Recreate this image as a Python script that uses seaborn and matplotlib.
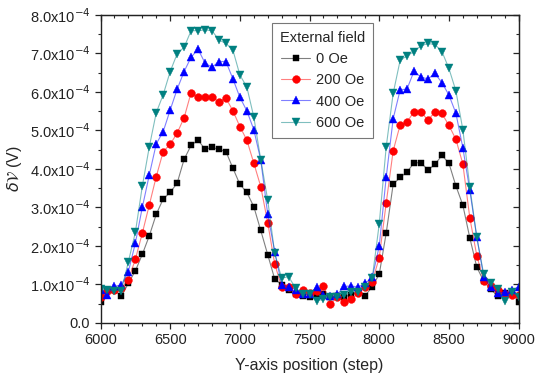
import numpy as np
import pandas as pd
import seaborn as sns
import matplotlib.pyplot as plt
from matplotlib.ticker import MultipleLocator, FuncFormatter

# Y-axis position (step), one point every 50 steps
steps = list(range(6000, 9001, 50))

# delta V in units of 1e-4 V
dv_0oe = [0.54, 0.83, 0.86, 0.69, 1.03, 1.35, 1.78, 2.26, 2.82, 3.22,
          3.39, 3.63, 4.25, 4.61, 4.75, 4.51, 4.56, 4.51, 4.45, 4.02,
          3.60, 3.39, 3.02, 2.40, 1.77, 1.14, 0.99, 0.86, 0.75, 0.70,
          0.68, 0.70, 0.74, 0.66, 0.70, 0.68, 0.73, 0.80, 0.71, 0.94,
          1.26, 2.33, 3.60, 3.78, 3.92, 4.16, 4.16, 3.97, 4.12, 4.35,
          4.15, 3.56, 3.06, 2.21, 1.45, 1.08, 0.87, 0.70, 0.78, 0.80, 0.55]
dv_200oe = [0.66, 0.84, 0.85, 0.90, 1.12, 1.65, 2.33, 3.06, 3.80, 4.45,
            4.64, 4.93, 5.33, 5.98, 5.86, 5.88, 5.86, 5.75, 5.84, 5.51,
            5.10, 4.75, 4.15, 3.54, 2.60, 1.53, 0.94, 0.92, 0.75, 0.86,
            0.78, 0.82, 0.96, 0.50, 0.66, 0.55, 0.61, 0.78, 0.94, 1.07,
            1.69, 3.11, 4.47, 5.14, 5.22, 5.49, 5.47, 5.27, 5.48, 5.44,
            5.13, 4.77, 4.13, 2.73, 1.75, 1.08, 0.96, 0.86, 0.75, 0.72, 0.72]
dv_400oe = [0.85, 0.73, 0.95, 0.99, 1.33, 2.07, 3.00, 3.84, 4.65, 4.97,
            5.53, 6.07, 6.53, 6.90, 7.11, 6.75, 6.64, 6.79, 6.79, 6.34,
            5.86, 5.51, 5.02, 4.23, 2.82, 1.85, 0.99, 0.94, 0.86, 0.75,
            0.74, 0.93, 0.72, 0.71, 0.74, 0.95, 0.96, 0.93, 1.03, 1.18,
            1.99, 3.78, 5.30, 6.05, 6.08, 6.54, 6.38, 6.34, 6.48, 6.24,
            5.92, 5.45, 4.55, 3.44, 2.23, 1.20, 0.93, 0.77, 0.80, 0.85, 0.93]
dv_600oe = [0.89, 0.86, 0.84, 0.84, 1.59, 2.35, 3.55, 4.57, 5.46, 5.93,
            6.53, 6.99, 7.16, 7.59, 7.59, 7.61, 7.59, 7.35, 7.26, 7.09,
            6.44, 6.13, 5.35, 4.24, 3.19, 1.81, 1.16, 1.20, 0.90, 0.76,
            0.75, 0.58, 0.61, 0.68, 0.66, 0.72, 0.80, 0.80, 0.92, 1.16,
            2.57, 4.57, 5.96, 6.82, 6.94, 7.05, 7.20, 7.26, 7.23, 7.05,
            6.61, 6.03, 5.02, 3.54, 2.23, 1.26, 1.04, 0.88, 0.58, 0.81, 0.68]

labels = ["0 Oe", "200 Oe", "400 Oe", "600 Oe"]
series = [dv_0oe, dv_200oe, dv_400oe, dv_600oe]
colours = ["#000000", "#FF0000", "#0000FF", "#008080"]
markers = ["s", "o", "^", "v"]
msizes = [4.8, 5.6, 6.4, 6.4]

sns.set_style("ticks")
plt.rcParams["font.family"] = ["Liberation Sans", "DejaVu Sans"]
plt.rcParams["mathtext.fontset"] = "dejavusans"

fig = plt.figure(figsize=(5.36, 3.83), dpi=100)
ax = fig.add_axes([0.1875, 0.157, 0.78, 0.804])

for lab, vals, col, mk, ms in zip(labels, series, colours, markers, msizes):
    df = pd.DataFrame({"step": steps, "dv": np.array(vals) * 1e-4})
    sns.lineplot(data=df, x="step", y="dv", ax=ax, label=lab,
                 color=col, linewidth=0.8,
                 marker=mk, markersize=ms, markeredgewidth=0.3)

# make markers opaque while keeping the thin lines light
for line in ax.get_lines():
    rgba = plt.matplotlib.colors.to_rgba(line.get_color())
    line.set_alpha(None)
    line.set_color(rgba[:3] + (0.5,))
    line.set_markerfacecolor(rgba[:3] + (1.0,))
    line.set_markeredgecolor(rgba[:3] + (1.0,))

ax.set_xlim(6000, 9000)
ax.set_ylim(0, 8e-4)
ax.xaxis.set_major_locator(MultipleLocator(500))
ax.xaxis.set_minor_locator(MultipleLocator(100))
ax.yaxis.set_major_locator(MultipleLocator(1e-4))
ax.yaxis.set_minor_locator(MultipleLocator(0.5e-4))


def ylab(v, pos):
    n = v / 1e-4
    if abs(n) < 1e-9:
        return "0.0"
    return "%.1fx10$^{-4}$" % n


ax.yaxis.set_major_formatter(FuncFormatter(ylab))
ax.tick_params(axis="both", which="major", direction="out", length=4,
               width=0.9, labelsize=10.5, colors="#222222")
ax.tick_params(axis="both", which="minor", direction="out", length=2.5, width=0.8)

# mirrored inward ticks on top and right
top = ax.secondary_xaxis("top")
top.xaxis.set_major_locator(MultipleLocator(500))
top.xaxis.set_minor_locator(MultipleLocator(100))
top.tick_params(which="major", direction="in", length=4, width=0.9, labeltop=False)
top.tick_params(which="minor", direction="in", length=2.5, width=0.8)
right = ax.secondary_yaxis("right")
right.yaxis.set_major_locator(MultipleLocator(1e-4))
right.yaxis.set_minor_locator(MultipleLocator(0.5e-4))
right.tick_params(which="major", direction="in", length=4, width=0.9, labelright=False)
right.tick_params(which="minor", direction="in", length=2.5, width=0.8)

for sp in ax.spines.values():
    sp.set_linewidth(1.0)
    sp.set_color("#222222")

ax.set_xlabel("Y-axis position (step)", fontsize=11.5, labelpad=8)
ax.set_ylabel(r"$\delta\mathcal{V}$ (V)", fontsize=11.5, labelpad=4)

leg = ax.legend(title="External field", loc="upper left",
                bbox_to_anchor=(0.41, 0.975), fontsize=10.5,
                title_fontsize=10.5, frameon=True, fancybox=False,
                handlelength=2.0, handletextpad=0.4, borderpad=0.55,
                labelspacing=0.5, borderaxespad=0)
leg.get_frame().set_edgecolor("#555555")
leg.get_frame().set_linewidth(0.8)

fig.savefig("out.png", dpi=100)
